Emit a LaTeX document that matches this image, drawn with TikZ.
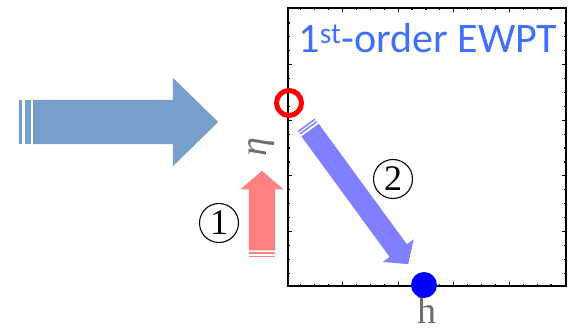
\documentclass[tikz,border=0pt]{standalone}
\usepackage{fontspec}
\newfontfamily\calibfont{Carlito}
\newfontfamily\timesfont{Liberation Serif}
\usepackage{tikz}
\usetikzlibrary{shapes.arrows,calc}

\definecolor{flowblue}{RGB}{119,159,203}
\definecolor{stepred}{RGB}{255,128,128}
\definecolor{steppurple}{RGB}{128,128,255}
\definecolor{titleblue}{RGB}{64,112,250}
\definecolor{labelgray}{RGB}{110,110,110}

\begin{document}
\begin{tikzpicture}[
    x=1pt, y=1pt,
    fatarrow/.style={single arrow, draw=none, inner xsep=0, minimum width=0, single arrow head indent=0, anchor=tail},
    tick/.style={line width=1.2pt},
    stepnum/.style={circle, draw, line width=1.1pt, minimum size=39pt, inner sep=0, font=\timesfont\fontsize{36}{36}\selectfont},
    axislabel/.style={text=labelgray, inner sep=0, font=\timesfont\fontsize{38}{38}\selectfont}
]
\useasboundingbox (0,0) rectangle (568,329);

% Incoming arrow
\node[fatarrow, fill=flowblue, inner ysep=22pt, single arrow head extend=22pt, single arrow tip angle=88.7, minimum height=185pt] (flow) at (33,207) {};
\fill[flowblue] (19,185) rectangle (22.3,229);
\fill[flowblue] (24.7,185) rectangle (30.7,229);

% Phase diagram frame
\node[draw, line width=2.2pt, minimum size=278pt, inner sep=0] (plotbox) at (427,182) {};
\foreach \i in {1,...,19} {
  \pgfmathsetmacro{\tl}{ifthenelse(mod(\i,4)==0,5,2.8)}
  \draw[tick] ($(plotbox.south west)+(13.9*\i,0)$) -- ++(0,\tl);
  \draw[tick] ($(plotbox.north west)+(13.9*\i,0)$) -- ++(0,-\tl);
  \draw[tick] ($(plotbox.south west)+(0,13.9*\i)$) -- ++(\tl,0);
  \draw[tick] ($(plotbox.south east)+(0,13.9*\i)$) -- ++(-\tl,0);
}

% Title
\node[text=titleblue, anchor=base, inner sep=0, font=\calibfont\fontsize{42}{42}\selectfont] (title) at (428,276) {1\textsuperscript{st}-order EWPT};

% Axis labels
\node[axislabel, rotate=90] (etalabel) at (262,182) {\itshape η};
\node[axislabel, anchor=base] (hlabel) at (427,5) {h};

% Start and end points
\node[circle, draw=red, line width=5pt, minimum size=25pt, inner sep=0] (start) at (289,226) {};
\node[circle, fill=blue, minimum size=26pt, inner sep=0] (vacuum) at (424,44) {};

% Step 1
\node[fatarrow, fill=stepred, rotate=90, inner ysep=13pt, single arrow head extend=8.3pt, single arrow tip angle=98.6, minimum height=79.7pt] (stepa) at (262,78.3) {};
\begin{scope}[shift={(stepa.tail)}, rotate=90]
  \fill[stepred] (-3.3,-13) rectangle (-1.6,13);
  \fill[stepred] (-6.6,-13) rectangle (-5,13);
\end{scope}
\node[stepnum] (one) at (219,106) {1};

% Step 2
\node[fatarrow, fill=steppurple, rotate=-53.8, inner ysep=10.5pt, single arrow head extend=8.5pt, single arrow tip angle=97.7, minimum height=166pt] (stepb) at (310,199) {};
\begin{scope}[shift={(stepb.tail)}, rotate=-53.8]
  \fill[steppurple] (-3.5,-10.5) rectangle (-2,10.5);
  \fill[steppurple] (-6.5,-10.5) rectangle (-5,10.5);
\end{scope}
\node[stepnum] (two) at (393,150) {2};

\end{tikzpicture}
\end{document}
